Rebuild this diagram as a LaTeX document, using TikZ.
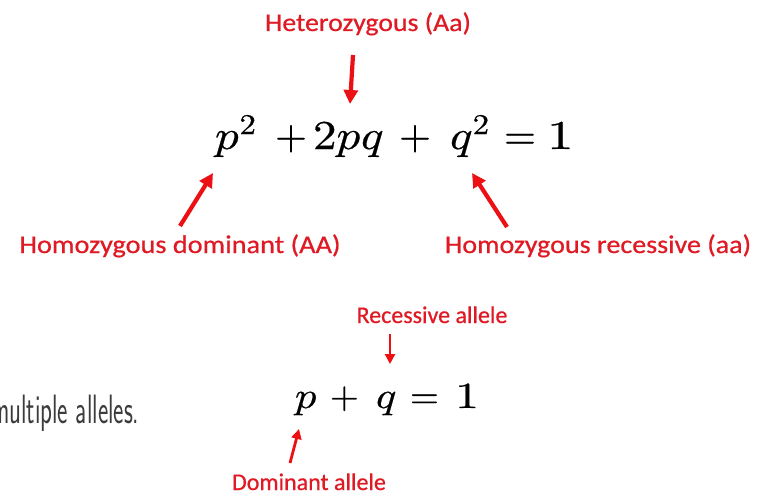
\documentclass[tikz,border=0pt]{standalone}
\usepackage{fontspec}
\usepackage{unicode-math}
\setmathfont{Latin Modern Math}[FakeBold=0.5]
\newfontfamily\labfont{Carlito}[FakeBold=0.6]
\usetikzlibrary{arrows.meta}
\definecolor{labred}{RGB}{224,26,36}
\definecolor{arrowred}{RGB}{236,16,20}
\definecolor{bodytext}{RGB}{60,60,60}
\begin{document}
\begin{tikzpicture}[x=1pt,y=-1pt,
  lbl/.style={text=labred, font=\labfont\fontsize{25.5}{30}\selectfont, inner sep=0pt, outer sep=0pt, anchor=base},
  smlbl/.style={text=labred, font=\labfont\fontsize{24}{28}\selectfont, inner sep=0pt, outer sep=0pt, anchor=base},
  eqpart/.style={inner sep=0pt, outer sep=0pt, anchor=base west, font=\fontsize{41}{46}\selectfont},
  eqsmall/.style={inner sep=0pt, outer sep=0pt, anchor=base west, font=\fontsize{37}{40}\selectfont},
  bigarrow/.style={draw=arrowred, line width=4.2pt, -{Triangle[length=14pt,width=14pt]}},
  smallarrow/.style={draw=arrowred, line width=2.8pt, -{Triangle[length=10pt,width=10pt]}}]
\useasboundingbox (0,0) rectangle (771,495);
\fill[white] (0,0) rectangle (771,495);

% labels
\node[lbl, xscale=1.09] (het) at (368,31) {Heterozygous (Aa)};
\node[lbl, xscale=1.11] (homdom) at (180,253) {Homozygous dominant (AA)};
\node[lbl, xscale=1.10] (homrec) at (598,253) {Homozygous recessive (aa)};
\node[smlbl, xscale=1.0] (recall) at (432,323) {Recessive allele};
\node[smlbl, xscale=1.0] (domall) at (309,490) {Dominant allele};

% equation 1
\node[eqpart, xscale=1.15] (e1) at (215,149) {$p^2$};
\node[eqpart] (e2) at (275,149) {$+$};
\node[eqpart, xscale=1.15] (e3) at (313,149) {$2pq$};
\node[eqpart] (e4) at (399,149) {$+$};
\node[eqpart, xscale=1.15] (e5) at (450,149) {$q^2$};
\node[eqpart] (e6) at (504,149) {$=$};
\node[eqpart, xscale=1.3] (e7) at (547,149) {$1$};

% equation 2
\node[eqsmall, xscale=1.15] (f1) at (295,408) {$p$};
\node[eqsmall] (f2) at (330,408) {$+$};
\node[eqsmall, xscale=1.15] (f3) at (376,408) {$q$};
\node[eqsmall] (f4) at (410,408) {$=$};
\node[eqsmall, xscale=1.3] (f5) at (455,408) {$1$};

% body text (cut at left edge, as in the reference)
\node[inner sep=0pt, outer sep=0pt, anchor=base west, xscale=0.6, text=bodytext,
      font=\sffamily\fontsize{41}{44}\selectfont] (body) at (-9,423) {multiple alleles.};

% arrows
\coordinate (hetT) at (353,55);   \coordinate (hetH) at (350,104);
\coordinate (hdT) at (180,226);   \coordinate (hdH) at (213,173);
\coordinate (hrT) at (507,227);   \coordinate (hrH) at (472,173);
\coordinate (raT) at (390,334);   \coordinate (raH) at (390,364);
\coordinate (daT) at (290,463);   \coordinate (daH) at (299,429);
\draw[bigarrow] (hetT) -- (hetH);
\draw[bigarrow] (hdT) -- (hdH);
\draw[bigarrow] (hrT) -- (hrH);
\draw[smallarrow] (raT) -- (raH);
\draw[smallarrow] (daT) -- (daH);
\end{tikzpicture}
\end{document}
